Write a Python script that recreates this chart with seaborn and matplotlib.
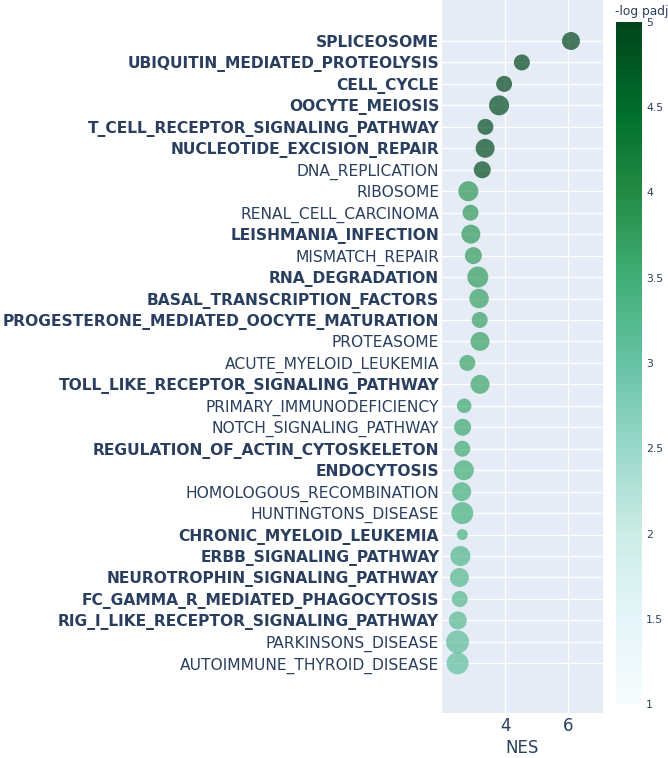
"""
GSEA dot plot: NES per KEGG pathway, colour = -log padj, size = gene set size
"""

import pandas as pd
import numpy as np
import matplotlib
matplotlib.use("Agg")
import matplotlib.pyplot as plt
import seaborn as sns

# ---- data ----
pathways = [
    "SPLICEOSOME", "UBIQUITIN_MEDIATED_PROTEOLYSIS", "CELL_CYCLE", "OOCYTE_MEIOSIS",
    "T_CELL_RECEPTOR_SIGNALING_PATHWAY", "NUCLEOTIDE_EXCISION_REPAIR", "DNA_REPLICATION",
    "RIBOSOME", "RENAL_CELL_CARCINOMA", "LEISHMANIA_INFECTION", "MISMATCH_REPAIR",
    "RNA_DEGRADATION", "BASAL_TRANSCRIPTION_FACTORS", "PROGESTERONE_MEDIATED_OOCYTE_MATURATION",
    "PROTEASOME", "ACUTE_MYELOID_LEUKEMIA", "TOLL_LIKE_RECEPTOR_SIGNALING_PATHWAY",
    "PRIMARY_IMMUNODEFICIENCY", "NOTCH_SIGNALING_PATHWAY", "REGULATION_OF_ACTIN_CYTOSKELETON",
    "ENDOCYTOSIS", "HOMOLOGOUS_RECOMBINATION", "HUNTINGTONS_DISEASE", "CHRONIC_MYELOID_LEUKEMIA",
    "ERBB_SIGNALING_PATHWAY", "NEUROTROPHIN_SIGNALING_PATHWAY", "FC_GAMMA_R_MEDIATED_PHAGOCYTOSIS",
    "RIG_I_LIKE_RECEPTOR_SIGNALING_PATHWAY", "PARKINSONS_DISEASE", "AUTOIMMUNE_THYROID_DISEASE",
]
nes = [6.08, 4.53, 3.97, 3.81, 3.38, 3.37, 3.28, 2.84, 2.91, 2.92,
       3.00, 3.14, 3.18, 3.20, 3.21, 2.81, 3.21, 2.71, 2.66, 2.65,
       2.70, 2.63, 2.65, 2.65, 2.59, 2.56, 2.57, 2.51, 2.50, 2.50]
neg_log_padj = [5.0, 5.0, 5.0, 4.9, 4.9, 4.9, 4.9, 3.85, 3.8, 3.8,
                3.75, 3.75, 3.7, 3.7, 3.7, 3.65, 3.65, 3.6, 3.6, 3.55,
                3.5, 3.45, 3.45, 3.4, 3.3, 3.25, 3.25, 3.2, 3.15, 3.1]
# marker diameter (px) ~ gene set size
dot_size = [18, 16, 16, 20, 16, 19, 17, 20, 16, 19,
            17, 21, 19.5, 16, 19, 16, 19, 14.5, 17, 16,
            20, 19, 22, 11, 20, 19, 16, 18, 23, 22]
bold = [True, True, True, True, True, True, False, False, False, True,
        False, True, True, True, False, False, True, False, False, True,
        True, False, False, True, True, True, True, True, False, False]

df = pd.DataFrame({
    "pathway": pathways,
    "NES": nes,
    "nlogp": neg_log_padj,
    "diam": dot_size,
})

TXT = "#2a3f5f"
BG = "#E5ECF6"

sns.set_style("darkgrid", {"axes.facecolor": BG, "grid.color": "white"})
plt.rcParams["font.family"] = ["DejaVu Sans"]

fig = plt.figure(figsize=(6.68, 7.58), dpi=100)
ax = fig.add_axes([442 / 668, 1 - 712.7 / 758, 161 / 668, 712.7 / 758])

# px diameter -> points^2 for scatter
area = (df["diam"] * 0.72) ** 2
sns.scatterplot(data=df, x="NES", y="pathway", hue="nlogp", palette="BuGn",
                hue_norm=(1, 5), s=area, alpha=0.7, linewidth=0,
                legend=False, ax=ax)

ax.set_xlim(2.01, 7.09)
ax.set_xticks([4, 6])
ax.set_ylim(len(pathways) - 1 + 2.3, -1.91)
ax.set_yticks(range(len(pathways)))
ax.set_yticklabels(pathways)
for lab, b in zip(ax.get_yticklabels(), bold):
    lab.set_fontweight("bold" if b else "normal")
ax.tick_params(axis="y", labelsize=11.2, colors=TXT, pad=2, length=0)
ax.tick_params(axis="x", labelsize=12, colors=TXT, pad=3, length=0)
ax.set_xlabel("NES", fontsize=12, color=TXT, labelpad=3)
ax.set_ylabel("")
ax.grid(True, color="white", linewidth=1)
for sp in ax.spines.values():
    sp.set_visible(False)

# colorbar
cax = fig.add_axes([616 / 668, 1 - 704 / 758, 26 / 668, 682 / 758])
sm = plt.cm.ScalarMappable(cmap="BuGn", norm=plt.Normalize(1, 5))
cb = fig.colorbar(sm, cax=cax)
cb.outline.set_visible(False)
cb.set_ticks([1, 1.5, 2, 2.5, 3, 3.5, 4, 4.5, 5])
cb.set_ticklabels(["1", "1.5", "2", "2.5", "3", "3.5", "4", "4.5", "5"])
cax.tick_params(labelsize=7.8, colors=TXT, length=0, pad=3)
fig.text(615 / 668, 1 - 12 / 758, "-log padj", fontsize=8.8, color=TXT,
         ha="left", va="center")

fig.savefig("out.png", dpi=100)
